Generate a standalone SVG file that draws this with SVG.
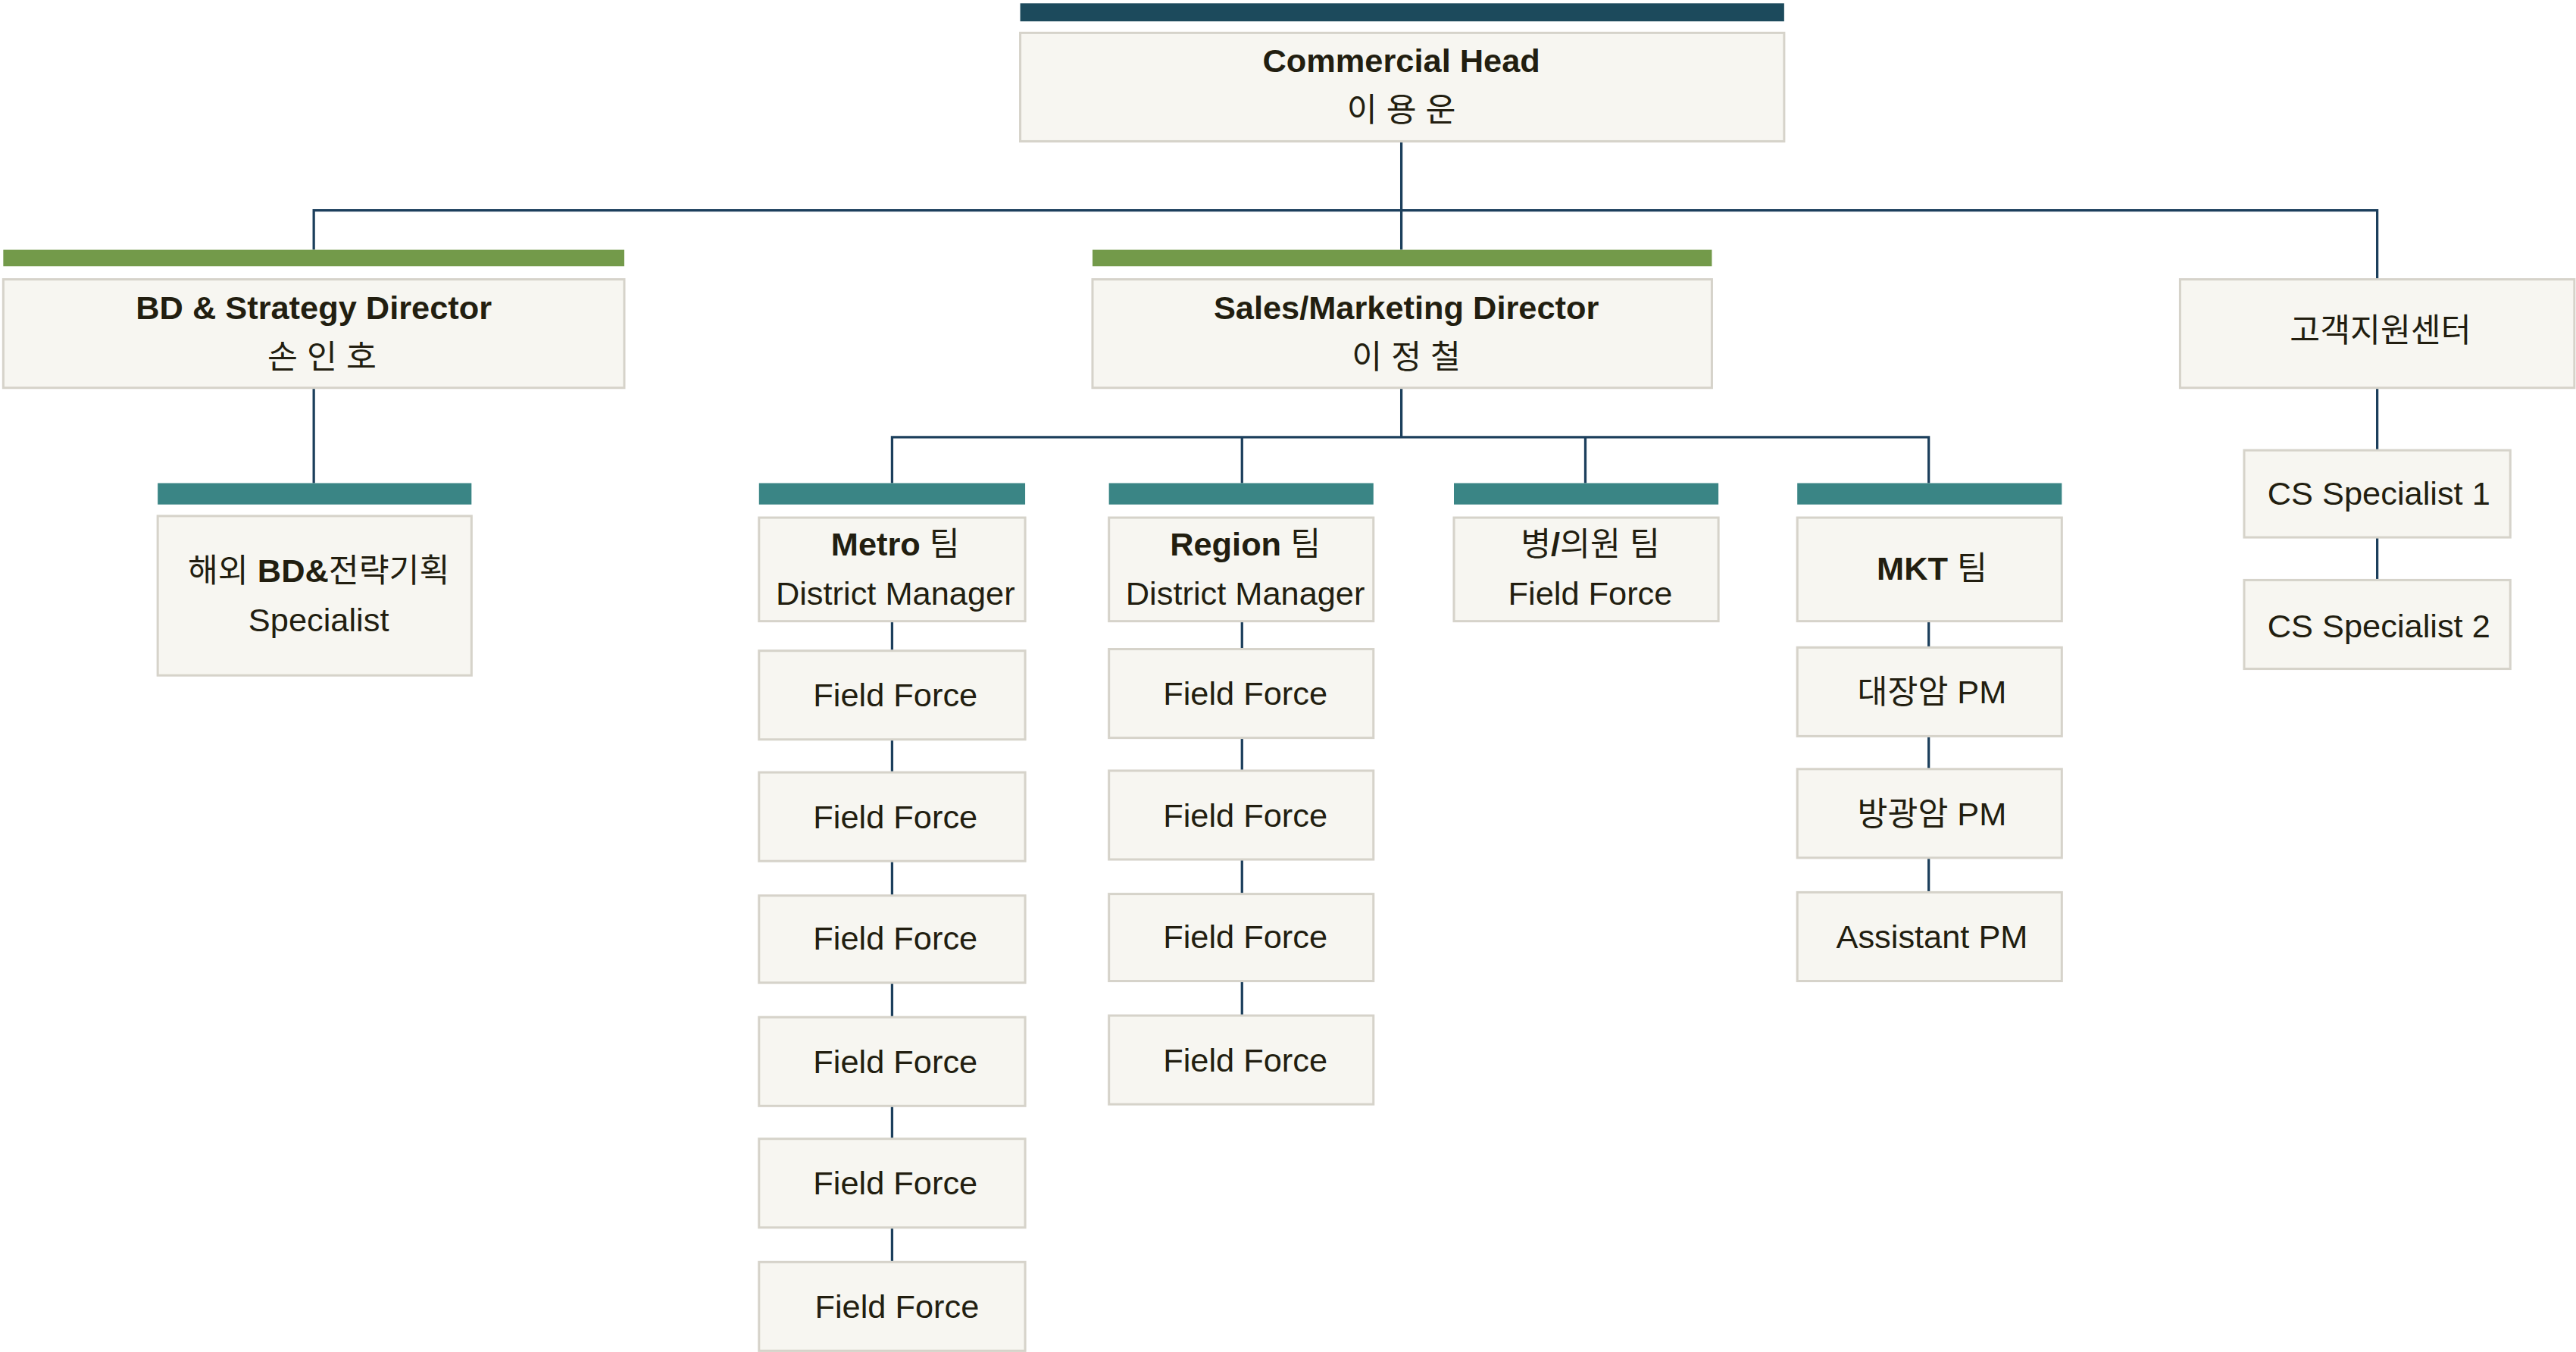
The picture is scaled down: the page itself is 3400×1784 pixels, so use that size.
<svg xmlns="http://www.w3.org/2000/svg" width="3400" height="1784" viewBox="0 0 3400 1784">
<style>
.box{fill:#f7f6f1;stroke:#d6d3ca;stroke-width:1.4}
.bt{fill:#1c4a5c}.bg{fill:#739a4a}.bc{fill:#3a8585}
.ln{stroke:#1c3f5c;stroke-width:1.5;fill:none}
text{font-family:"Liberation Sans","Noto Sans CJK KR",sans-serif;font-size:20px;fill:#221e10;text-anchor:middle}
.b{font-weight:bold}
</style>
<rect width="3400" height="1784" fill="#ffffff"/>
<g transform="scale(2.16837)">
<g id="connectors" class="ln">
<path d="M853 86V152M191 152V128H1447V170M191 236V294"/>
<path d="M853 236V266M543 294V266H1174V294M756 266V294M965 266V294"/>
<path d="M543 378V396M543 450V470M543 524V545M543 598V619M543 673V693M543 747V768"/>
<path d="M756 378V395M756 449V469M756 523V544M756 597V618"/>
<path d="M1174 378V394M1174 448V468M1174 522V543"/>
<path d="M1447 236V274M1447 327V353"/>
</g>
<g id="head"><rect class="bt" x="621" y="2" width="465" height="11"/><rect class="box" x="621" y="20" width="465" height="66"/><text class="b" x="853" y="44">Commercial Head</text><text x="853" y="74">이 용 운</text></g>
<g id="bd"><rect class="bg" x="2" y="152" width="378" height="10"/><rect class="box" x="2" y="170" width="378" height="66"/><text class="b" x="191" y="194">BD &amp; Strategy Director</text><text x="196" y="224">손  인  호</text></g>
<g id="sales"><rect class="bg" x="665" y="152" width="377" height="10"/><rect class="box" x="665" y="170" width="377" height="66"/><text class="b" x="856" y="194">Sales/Marketing Director</text><text x="856" y="224">이 정 철</text></g>
<g id="cs"><rect class="box" x="1327" y="170" width="240" height="66"/><text x="1449" y="208">고객지원센터</text></g>
<g id="bdspec"><rect class="bc" x="96" y="294" width="191" height="13"/><rect class="box" x="96" y="314" width="191" height="97"/><text x="194" y="354">해외 <tspan class="b">BD&amp;</tspan>전략기획</text><text x="194" y="384">Specialist</text></g>
<g id="metro"><rect class="bc" x="462" y="294" width="162" height="13"/><rect class="box" x="462" y="315" width="162" height="63"/><text x="545" y="338"><tspan class="b">Metro</tspan> 팀</text><text x="545" y="368">District Manager</text></g>
<g id="region"><rect class="bc" x="675" y="294" width="161" height="13"/><rect class="box" x="675" y="315" width="161" height="63"/><text x="758" y="338"><tspan class="b">Region</tspan> 팀</text><text x="758" y="368">District Manager</text></g>
<g id="clinic"><rect class="bc" x="885" y="294" width="161" height="13"/><rect class="box" x="885" y="315" width="161" height="63"/><text x="968" y="338">병<tspan class="b">/</tspan>의원 팀</text><text x="968" y="368">Field Force</text></g>
<g id="mkt"><rect class="bc" x="1094" y="294" width="161" height="13"/><rect class="box" x="1094" y="315" width="161" height="63"/><text x="1176" y="353"><tspan class="b">MKT</tspan> 팀</text></g>
<g id="m1"><rect class="box" x="462" y="396" width="162" height="54"/><text x="545" y="430">Field Force</text></g>
<g id="m2"><rect class="box" x="462" y="470" width="162" height="54"/><text x="545" y="504">Field Force</text></g>
<g id="m3"><rect class="box" x="462" y="545" width="162" height="53"/><text x="545" y="578">Field Force</text></g>
<g id="m4"><rect class="box" x="462" y="619" width="162" height="54"/><text x="545" y="653">Field Force</text></g>
<g id="m5"><rect class="box" x="462" y="693" width="162" height="54"/><text x="545" y="727">Field Force</text></g>
<g id="m6"><rect class="box" x="462" y="768" width="162" height="54"/><text x="546" y="802">Field Force</text></g>
<g id="r1"><rect class="box" x="675" y="395" width="161" height="54"/><text x="758" y="429">Field Force</text></g>
<g id="r2"><rect class="box" x="675" y="469" width="161" height="54"/><text x="758" y="503">Field Force</text></g>
<g id="r3"><rect class="box" x="675" y="544" width="161" height="53"/><text x="758" y="577">Field Force</text></g>
<g id="r4"><rect class="box" x="675" y="618" width="161" height="54"/><text x="758" y="652">Field Force</text></g>
<g id="k1"><rect class="box" x="1094" y="394" width="161" height="54"/><text x="1176" y="428">대장암 PM</text></g>
<g id="k2"><rect class="box" x="1094" y="468" width="161" height="54"/><text x="1176" y="502">방광암 PM</text></g>
<g id="k3"><rect class="box" x="1094" y="543" width="161" height="54"/><text x="1176" y="577">Assistant PM</text></g>
<g id="cs1"><rect class="box" x="1366" y="274" width="162" height="53"/><text x="1448" y="307">CS Specialist 1</text></g>
<g id="cs2"><rect class="box" x="1366" y="353" width="162" height="54"/><text x="1448" y="388">CS Specialist 2</text></g>
</g>
</svg>
